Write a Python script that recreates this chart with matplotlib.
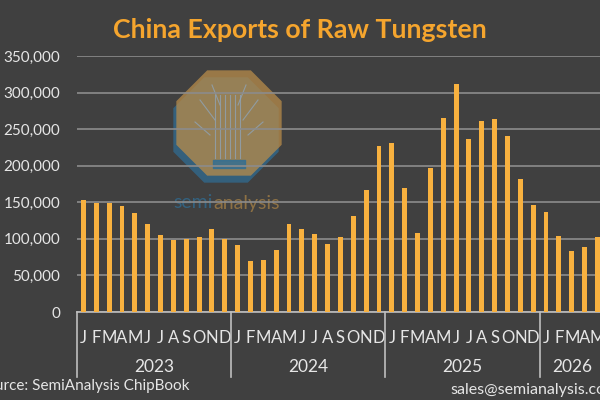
import numpy as np
import matplotlib.pyplot as plt
from matplotlib.patches import RegularPolygon
from matplotlib.lines import Line2D
import matplotlib.transforms as mtransforms

# Dados (toneladas, jan/2023 a mai/2026)
meses = ["J", "F", "M", "A", "M", "J", "J", "A", "S", "O", "N", "D"]
anos = ["2023", "2024", "2025", "2026"]
meses_por_ano = [12, 12, 12, 5]

exp_2023 = [152500, 149000, 149000, 145000, 135000, 120500,
            105500, 98000, 99500, 102000, 113000, 100000]
exp_2024 = [92000, 70000, 71000, 84500, 120000, 113500,
            107000, 93000, 103000, 131500, 167000, 227000]
exp_2025 = [230500, 170000, 108000, 197000, 265000, 312000,
            236500, 261000, 264000, 240000, 182000, 146500]
exp_2026 = [137000, 104500, 83500, 88500, 103000]

fundo = "#404040"
laranja = "#F8B13F"
cinza = "#8C8C8C"
texto = "#E6E6E6"

plt.rcParams["font.family"] = ["Lato", "DejaVu Sans"]

valores = exp_2023 + exp_2024 + exp_2025 + exp_2026
x = np.arange(len(valores))
rotulos = []
for n in meses_por_ano:
    rotulos += meses[:n]

fig = plt.figure(figsize=(6, 4), dpi=100, facecolor=fundo)
ax = fig.add_axes([77 / 600, 88 / 400, 1 - 77 / 600, 256 / 400])
ax.set_facecolor(fundo)

# marca d'água (logo)
logo = fig.add_axes([0, 0, 1, 1], zorder=0)
logo.set_xlim(0, 600)
logo.set_ylim(400, 0)
logo.axis("off")
logo.add_patch(RegularPolygon((226, 130), 8, radius=57, orientation=np.pi / 8,
                              facecolor="#2F6E96", alpha=0.7, edgecolor="none"))
logo.add_patch(RegularPolygon((229, 123), 8, radius=57, orientation=np.pi / 8,
                              facecolor="#B88C4A", alpha=0.75, edgecolor="none"))
for dx in [-14, -9, -4, 1, 6, 11]:
    logo.plot([229 + dx, 229 + dx], [95, 158], color="#8FA3B5", lw=0.8, alpha=0.8)
for sx, sy, ex, ey in [(215, 120, 200, 100), (243, 120, 258, 100), (210, 135, 195, 122),
                       (248, 135, 263, 122), (220, 105, 212, 85), (238, 105, 246, 85)]:
    logo.plot([sx, ex], [sy, ey], color="#8FA3B5", lw=0.8, alpha=0.8)
logo.fill_between([213, 245], [160, 160], [168, 168], color="#2F6E96", alpha=0.8)
logo.text(213, 203, "semi", color="#2F6E96", fontsize=14, alpha=0.75,
          ha="right", va="center")
logo.text(213, 203, "analysis", color="#9C7A45", fontsize=14, alpha=0.85,
          ha="left", va="center")

ax.set_zorder(1)
ax.patch.set_alpha(0)
ax.bar(x, valores, width=0.38, color=laranja, zorder=3)

ax.set_ylim(0, 350000)
ax.set_xlim(-0.5, 40.2)
ax.set_yticks(np.arange(0, 350001, 50000))
ax.set_yticklabels([f"{v:,}" for v in range(0, 350001, 50000)])
ax.grid(axis="y", color=cinza, lw=1.2, zorder=0)
ax.set_axisbelow(True)
ax.set_xticks(x)
ax.set_xticklabels(rotulos)
ax.tick_params(axis="both", length=0, colors=texto, labelsize=12)
ax.tick_params(axis="y", labelsize=11, pad=12)
ax.tick_params(axis="x", pad=13)
for s in ["top", "right", "left"]:
    ax.spines[s].set_visible(False)
ax.spines["bottom"].set_color("#BFBFBF")
ax.spines["bottom"].set_linewidth(1.2)

# separadores e rótulos dos anos
trans = mtransforms.blended_transform_factory(ax.transData, ax.transAxes)
inicio = 0
for ano, n in zip(anos, meses_por_ano):
    ax.add_line(Line2D([inicio - 0.5, inicio - 0.5], [0, -0.255], transform=trans,
                       color="#BFBFBF", lw=1.2, clip_on=False))
    ax.text(inicio + (n - 1) / 2, -0.215, ano, transform=trans, ha="center",
            va="center", color=texto, fontsize=12.5)
    inicio += n

fig.text(300 / 600, 1 - 30 / 400, "China Exports of Raw Tungsten", ha="center",
         va="center", color="#F5A52E", fontsize=19.3, fontweight="bold")
fig.text(190 / 600, 1 - 386 / 400, "Source: SemiAnalysis ChipBook", ha="right",
         va="center", color=texto, fontsize=11)
fig.text(450 / 600, 1 - 390 / 400, "sales@semianalysis.com", ha="left",
         va="center", color=texto, fontsize=11.5)

fig.savefig("out.png", dpi=100, facecolor=fundo)
